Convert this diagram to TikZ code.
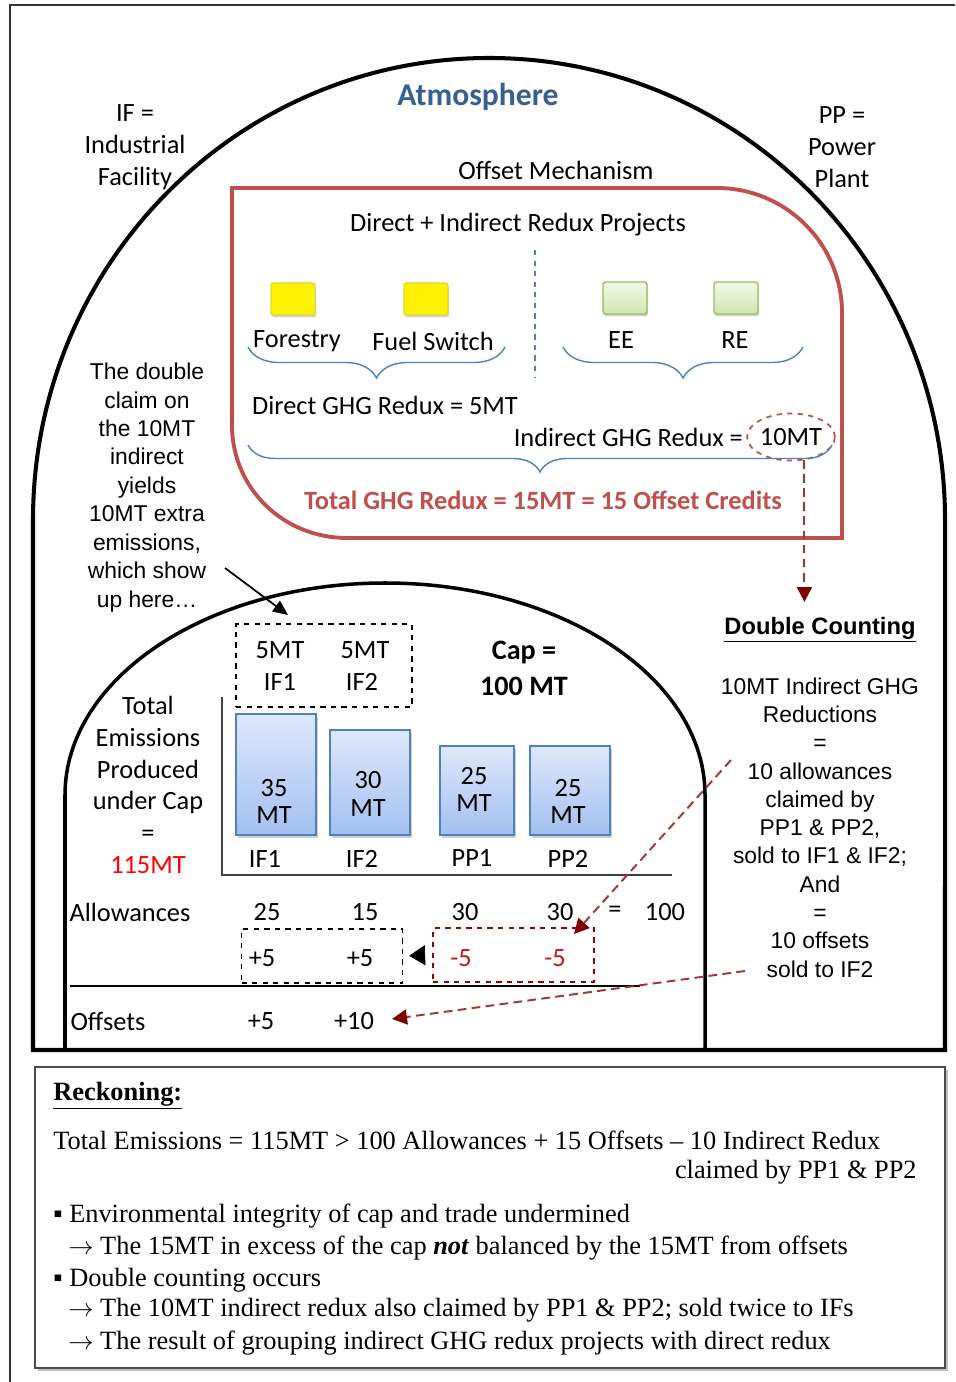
\documentclass[tikz,border=0pt]{standalone}
\usepackage{fontspec}
\setmainfont{Carlito}
\newfontfamily\arialfont{Liberation Sans}
\newfontfamily\timesfont{Liberation Serif}
\usetikzlibrary{arrows.meta, positioning, shapes.geometric, decorations.pathreplacing, shadows}

\definecolor{atmblue}{HTML}{376092}
\definecolor{offred}{HTML}{C0504D}
\definecolor{bracblue}{HTML}{4F81BD}
\definecolor{bartop}{HTML}{DDE8FA}
\definecolor{barbot}{HTML}{A3C0F0}
\definecolor{dashred}{HTML}{A83232}
\definecolor{tipred}{HTML}{7F0000}
\definecolor{numred}{HTML}{C8161C}
\definecolor{projgreen}{HTML}{9BBB59}
\definecolor{grntop}{HTML}{F2F8E6}
\definecolor{grnbot}{HTML}{D2E6AE}

\begin{document}
\begin{tikzpicture}[x=0.2mm, y=-0.2mm,
        txt/.style={font=\fontsize{15}{18.1}\selectfont, inner sep=0pt, align=center},
        arl/.style={font=\arialfont\fontsize{13}{16.2}\selectfont, inner sep=0pt, align=center},
        rck/.style={font=\timesfont\fontsize{15}{18}\selectfont, inner sep=0pt, anchor=west},
        dome/.style={line width=2.3pt},
        brc/.style={bracblue, line width=0.8pt, decorate, decoration={brace, mirror, amplitude=6.2mm}},
        yelbox/.style={rectangle, rounded corners=1.5pt, fill=yellow, draw=yellow!60!projgreen, line width=0.8pt, minimum width=8.8mm, minimum height=6.4mm, drop shadow={shadow xshift=0.2mm, shadow yshift=-0.5mm, opacity=0.35}},
        grnbox/.style={rectangle, rounded corners=1.5pt, top color=grntop, bottom color=grnbot, draw=projgreen, line width=0.8pt, minimum width=8.8mm, minimum height=6.4mm, drop shadow={shadow xshift=0.2mm, shadow yshift=-0.5mm, opacity=0.35}},
        bar/.style={rectangle, draw=bracblue, line width=0.8pt, top color=bartop, bottom color=barbot, minimum width=16mm, drop shadow={shadow xshift=0.3mm, shadow yshift=-0.6mm, opacity=0.35}},
        dbox/.style={rectangle, draw, dashed, line width=0.7pt, minimum width=32.2mm, minimum height=10.8mm, inner sep=0pt},
        redflow/.style={dashred, line width=1.1pt, dash pattern=on 5pt off 3pt, -{Triangle[length=3mm, width=3mm, color=tipred]}}
    ]
    \useasboundingbox (0,0) rectangle (955,1382);
    % frame and domes
    \draw[line width=0.9pt, black!80] (10,1382) -- (10,5) -- (955,5);
    \draw[dome] (33,1050) -- (33,520) arc[start angle=180, end angle=0, x radius=91.2mm, y radius=92.4mm] -- (945,1050) -- cycle;
    \draw[dome, line width=2pt] (65,1050) -- (65,795) arc[start angle=180, end angle=0, x radius=64mm, y radius=42.4mm] -- (705,1050);

    % atmosphere labels
    \node[txt, font=\bfseries\fontsize{18}{20}\selectfont, text=atmblue] (atmos) at (478,97) {Atmosphere};
    \node[txt] (ifnote) at (135,147) {IF =\\Industrial\\Facility};
    \node[txt] (ppnote) at (842,147) {PP =\\Power\\Plant};
    \node[txt] (offmech) at (556,170) {Offset Mechanism};

    % offset mechanism
    \draw[offred, line width=2.2pt] (232,188) -- (717,188) .. controls (786,188) and (842,244) .. (842,313) -- (842,538) -- (347,538) .. controls (283.5,538) and (232,488.5) .. (232,425) -- cycle;
    \node[txt] (projects) at (518,225) {Direct + Indirect Redux Projects};
    \node[yelbox] (forbox) at (293,299) {};
    \node[yelbox] (fuelbox) at (426,299) {};
    \node[grnbox] (eebox) at (625,298) {};
    \node[grnbox] (rebox) at (736,298) {};
    \node[txt] (forestry) at (297,341) {Forestry};
    \node[txt] (fuel) at (433,341) {Fuel Switch};
    \node[txt] (ee) at (621,340) {EE};
    \node[txt] (re) at (735,340) {RE};
    \draw[bracblue, dashed, line width=0.6pt] (535,250) -- (535,378);
    \draw[brc] (248,347) -- (505,347);
    \draw[brc] (563,347) -- (803,347);
    \node[txt] (direct) at (385,405) {Direct GHG Redux = 5MT};
    \node[txt, ellipse, draw=offred, dashed, line width=1pt, minimum width=16.4mm, minimum height=9.4mm] (tenmt) at (791,437) {10MT};
    \node[txt, left=0.6mm of tenmt] (indirect) {Indirect GHG Redux =};
    \draw[brc, decoration={amplitude=5.4mm}] (248,445) -- (832,445);
    \node[txt, font=\bfseries\fontsize{15}{18}\selectfont, text=offred] (total) at (543,500) {Total GHG Redux = 15MT = 15 Offset Credits};

    % side notes
    \node[arl] (claimnote) at (147,487.5) {The double\\claim on\\the 10MT\\indirect\\yields\\10MT extra\\emissions,\\which show\\up here\dots};
    \node[inner sep=0pt, font=\arialfont\bfseries\fontsize{13.5}{16}\selectfont] (dchead) at (820,630) {\underline{Double Counting}};
    \node[arl, font=\arialfont\fontsize{13}{16.1}\selectfont] (dcnote) at (820,827.5) {10MT Indirect GHG\\Reductions\\=\\10 allowances\\claimed by\\PP1 \& PP2,\\sold to IF1 \& IF2;\\And\\=\\10 offsets\\sold to IF2};

    % cap dome contents
    \node[rectangle, draw, dashed, line width=0.7pt, minimum width=35.2mm, minimum height=16.6mm] (extrabox) at (324,665.5) {};
    \node[txt] (extraone) at (280,650) {5MT};
    \node[txt] (extratwo) at (365,650) {5MT};
    \node[txt] (extraif1) at (280,682) {IF1};
    \node[txt] (extraif2) at (362,682) {IF2};
    \node[txt, font=\bfseries\fontsize{16}{20.4}\selectfont] (cap) at (524,668) {Cap =\\100 MT};
    \node[txt] (totalem) at (148,785) {Total\\Emissions\\Produced\\under Cap\\=\\\textcolor{red}{115MT}};
    \draw[black!75, line width=1pt] (222,697) -- (222,875) -- (672,875);
    \node[bar, minimum height=24.2mm] (barif1) at (276,774.5) {};
    \node[bar, minimum height=21mm] (barif2) at (370,782.5) {};
    \node[bar, minimum width=14.8mm, minimum height=17.8mm] (barpp1) at (477,790.5) {};
    \node[bar, minimum height=17.8mm] (barpp2) at (570,790.5) {};
    \node[txt, font=\fontsize{15}{15.5}\selectfont] (valif1) at (274,801.5) {35\\MT};
    \node[txt, font=\fontsize{15}{15.5}\selectfont] (valif2) at (368,794) {30\\MT};
    \node[txt, font=\fontsize{15}{15.5}\selectfont] (valpp1) at (474,789.5) {25\\MT};
    \node[txt, font=\fontsize{15}{15.5}\selectfont] (valpp2) at (568,801.5) {25\\MT};
    \node[txt] (lblif1) at (265,859) {IF1};
    \node[txt] (lblif2) at (362,859) {IF2};
    \node[txt] (lblpp1) at (472,858) {PP1};
    \node[txt] (lblpp2) at (568,859) {PP2};

    % allowances and offsets
    \node[txt] (allow) at (130,912) {Allowances};
    \node[txt] (allowif1) at (267,912) {25};
    \node[txt] (allowif2) at (365,912) {15};
    \node[txt] (allowpp1) at (465,912) {30};
    \node[txt] (allowpp2) at (560,912) {30};
    \node[txt] (alloweq) at (615,912) {=};
    \node[txt] (allowsum) at (665,912) {100};
    \node[dbox] (plusbox) at (322,956) {};
    \node[dbox, draw=tipred!80!red] (minusbox) at (513.5,955) {};
    \node[txt] (plusif1) at (262,958) {+5};
    \node[txt] (plusif2) at (360,958) {+5};
    \node[txt, text=numred] (minuspp1) at (461,958) {-5};
    \node[txt, text=numred] (minuspp2) at (555,958) {-5};
    \draw[-{Triangle[length=3.2mm, width=4mm]}, shorten <=1.6mm, shorten >=1.2mm] (minusbox.west) -- (plusbox.east);
    \draw[line width=1pt] (70,986) -- (640,986);
    \node[txt] (offsets) at (108,1021) {Offsets};
    \node[txt] (offif1) at (261,1021) {+5};
    \node[txt] (offif2) at (354,1021) {+10};

    % connectors
    \coordinate (claimstart) at (225,568);
    \coordinate (claimend) at (288,615);
    \draw[line width=1pt, -{Triangle[length=3mm, width=2.6mm]}] (claimstart) -- (claimend);
    \coordinate (dcarrow) at (803,602);
    \draw[redflow] (tenmt.-60) -- (tenmt.-60 |- dcarrow);
    \coordinate (allowstart) at (731,760);
    \coordinate (allowend) at (574,934);
    \draw[redflow] (allowstart) -- (allowend);
    \coordinate (offstart) at (745,971);
    \coordinate (offend) at (392,1019);
    \draw[redflow] (offstart) -- (offend);

    % reckoning
    \node[draw=black!70, line width=0.8pt, fill=white, minimum width=182mm, minimum height=60.2mm, inner sep=0pt, drop shadow={shadow xshift=0.6mm, shadow yshift=-0.6mm, fill=black!50, opacity=0.5}] (reckbox) at (490,1217.5) {};
    \node[rck, font=\timesfont\bfseries\fontsize{15}{18}\selectfont] (reckhead) at (53,1096) {\underline{Reckoning:}};
    \node[rck] (recktotal) at (53,1140) {Total Emissions = 115MT > 100 Allowances + 15 Offsets – 10 Indirect Redux};
    \node[rck, anchor=east] (reckclaim) at (917,1172) {claimed by PP1 \& PP2};
    \node[rck] (reckenv) at (53,1216) {▪ Environmental integrity of cap and trade undermined};
    \node[rck] (reckexcess) at (68,1248) {$\rightarrow$ The 15MT in excess of the cap \textbf{\textit{not}} balanced by the 15MT from offsets};
    \node[rck] (reckdouble) at (53,1280) {▪ Double counting occurs};
    \node[rck] (recktwice) at (68,1310) {$\rightarrow$ The 10MT indirect redux also claimed by PP1 \& PP2; sold twice to IFs};
    \node[rck] (reckgroup) at (68,1343) {$\rightarrow$ The result of grouping indirect GHG redux projects with direct redux};
\end{tikzpicture}
\end{document}
